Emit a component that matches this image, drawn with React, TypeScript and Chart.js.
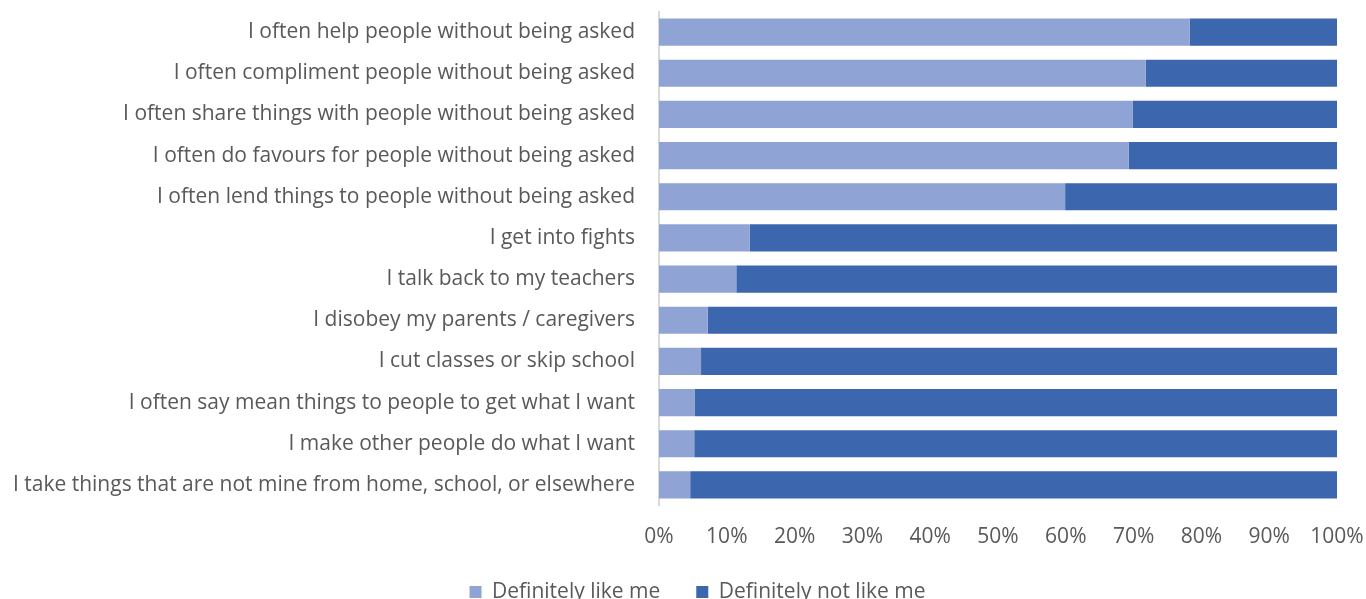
import React, { useEffect, useRef } from "react";
import { Chart, registerables } from "chart.js";

Chart.register(...registerables);

const categories = [
  "I often help people without being asked",
  "I often compliment people without being asked",
  "I often share things with people without being asked",
  "I often do favours for people without being asked",
  "I often lend things to people without being asked",
  "I get into fights",
  "I talk back to my teachers",
  "I disobey my parents / caregivers",
  "I cut classes or skip school",
  "I often say mean things to people to get what I want",
  "I make other people do what I want",
  "I take things that are not mine from home, school, or elsewhere",
];

const likeMe = [78.3, 71.8, 69.9, 69.3, 59.9, 13.4, 11.4, 7.2, 6.2, 5.3, 5.2, 4.6];
const notLikeMe = [21.7, 28.2, 30.1, 30.7, 40.1, 86.6, 88.6, 92.8, 93.8, 94.7, 94.8, 95.4];

const seriesNames = ["Definitely like me", "Definitely not like me"];
const tickValues = [0, 10, 20, 30, 40, 50, 60, 70, 80, 90, 100];

const FONT = "'Open Sans', sans-serif";

const legendShift = {
  id: "legendShift",
  afterLayout(chart: any) {
    if (chart.legend) {
      chart.legend.left += 29;
      chart.legend.right += 29;
      chart.legend.top += 2;
      chart.legend.bottom += 2;
    }
  },
};

export default function App() {
  const ref = useRef<HTMLCanvasElement | null>(null);

  useEffect(() => {
    document.body.style.margin = "0";
    const canvas = ref.current;
    if (!canvas) return;
    const chart = new Chart(canvas, {
      type: "bar",
      data: {
        labels: categories,
        datasets: [
          {
            label: seriesNames[0],
            data: likeMe,
            backgroundColor: "#8FA4D4",
            barPercentage: 0.66,
            categoryPercentage: 1,
          },
          {
            label: seriesNames[1],
            data: notLikeMe,
            backgroundColor: "#3C66AE",
            barPercentage: 0.66,
            categoryPercentage: 1,
          },
        ],
      },
      plugins: [legendShift],
      options: {
        indexAxis: "y",
        animation: false,
        responsive: false,
        layout: { padding: { top: 11.5, right: 29, left: 0, bottom: -11.5 } },
        plugins: {
          tooltip: { enabled: false },
          legend: {
            position: "bottom",
            labels: {
              boxWidth: 12,
              boxHeight: 12,
              padding: 36,
              color: "#595959",
              font: { family: FONT, size: 21 },
            },
          },
        },
        scales: {
          x: {
            stacked: true,
            min: 0,
            max: 100,
            afterBuildTicks: (axis: any) => {
              axis.ticks = tickValues.map((v) => ({ value: v }));
            },
            afterFit: (axis: any) => {
              axis.height = 38;
              axis.paddingRight = 0;
              axis.paddingLeft = 0;
            },
            grid: { display: false, drawTicks: false },
            border: { display: false },
            ticks: {
              padding: 19,
              color: "#595959",
              font: { family: FONT, size: 21 },
              callback: (v: any) => v + "%",
            },
          },
          y: {
            stacked: true,
            grid: { display: false, drawTicks: false },
            border: { display: true, color: "#D9D9D9", width: 2 },
            afterFit: (axis: any) => {
              axis.width = 659;
              axis.paddingTop = 0;
              axis.paddingBottom = 0;
            },
            ticks: {
              padding: 24,
              color: "#595959",
              font: { family: FONT, size: 21 },
            },
          },
        },
      },
    });
    return () => chart.destroy();
  }, []);

  return <canvas ref={ref} width={1366} height={599} style={{ display: "block" }} />;
}
